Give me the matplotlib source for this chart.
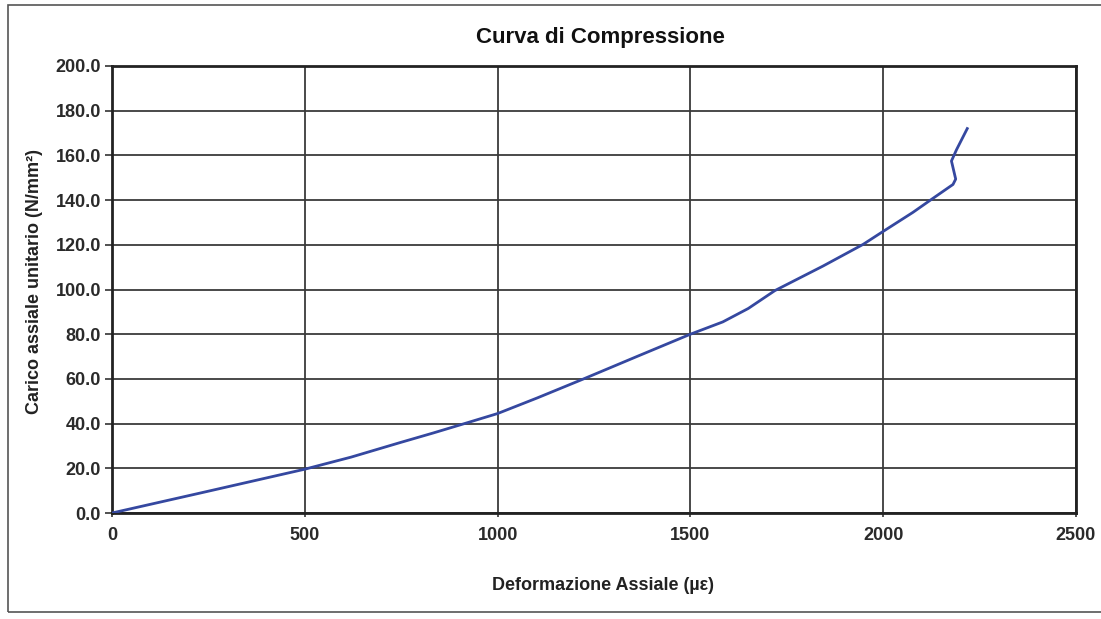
"""Compression curve: axial stress vs axial strain."""

import matplotlib

matplotlib.use("Agg")
import matplotlib.pyplot as plt
from matplotlib.patches import Rectangle

# Values
strain_ue = [0, 228, 500, 620, 747, 833, 914, 1000, 1103, 1223, 1361, 1500,
             1584, 1650, 1719, 1844, 1948, 1990, 2077, 2120, 2181, 2188, 2177,
             2190, 2218]
stress_mpa = [0.0, 8.9, 19.6, 25.0, 31.5, 35.8, 40.0, 44.5, 51.5, 60.0, 70.0,
              80.0, 85.5, 91.5, 99.5, 110.5, 120.2, 124.9, 134.5, 139.7,
              147.0, 149.4, 157.5, 162.5, 172.0]

x_ticks = [0, 500, 1000, 1500, 2000, 2500]
y_ticks = [0, 20, 40, 60, 80, 100, 120, 140, 160, 180, 200]

title = "Curva di Compressione"
x_label = "Deformazione Assiale (µε)"
y_label = "Carico assiale unitario (N/mm²)"


def main() -> None:
    plt.rcParams["font.family"] = ["Liberation Sans", "DejaVu Sans"]

    fig = plt.figure(figsize=(11.01, 6.19), dpi=100)
    fig.patch.set_facecolor("white")

    # outer chart border
    fig.patches.append(Rectangle((8 / 1101, 7 / 619), 1.2, 607 / 619,
                                 transform=fig.transFigure, fill=False,
                                 edgecolor="#555555", linewidth=1.2))

    ax = fig.add_axes([112 / 1101, 1 - 513 / 619, 964 / 1101, 447 / 619])
    ax.plot(strain_ue, stress_mpa, color="#3548a0", linewidth=2.0, zorder=3)

    ax.set_xlim(0, 2500)
    ax.set_ylim(0, 200)
    ax.set_xticks(x_ticks)
    ax.set_yticks(y_ticks)
    ax.set_xticklabels([str(t) for t in x_ticks])
    ax.set_yticklabels([f"{t:.1f}" for t in y_ticks])

    ax.grid(True, color="#3a3a3a", linewidth=1.3)
    ax.set_axisbelow(True)
    for spine in ax.spines.values():
        spine.set_color("#222222")
        spine.set_linewidth(2.0)

    ax.tick_params(axis="y", direction="out", length=5, width=1.2,
                   color="#333333", pad=3, labelsize=13, labelcolor="#2a2a2a")
    ax.tick_params(axis="x", direction="out", length=3, width=1.2,
                   color="#333333", pad=7, labelsize=13, labelcolor="#2a2a2a")
    for lbl in ax.get_xticklabels() + ax.get_yticklabels():
        lbl.set_fontweight("bold")

    fig.text(600 / 1101, 1 - 38 / 619, title, ha="center", va="center",
             fontsize=16, fontweight="bold", color="#111111")
    fig.text(603 / 1101, 1 - 585 / 619, x_label, ha="center", va="center",
             fontsize=13, fontweight="bold", color="#222222")
    fig.text(35 / 1101, 1 - 282 / 619, y_label, ha="center", va="center",
             rotation=90, fontsize=13, fontweight="bold", color="#222222")

    fig.savefig("out.png", dpi=100)
    plt.close(fig)


if __name__ == "__main__":
    main()
